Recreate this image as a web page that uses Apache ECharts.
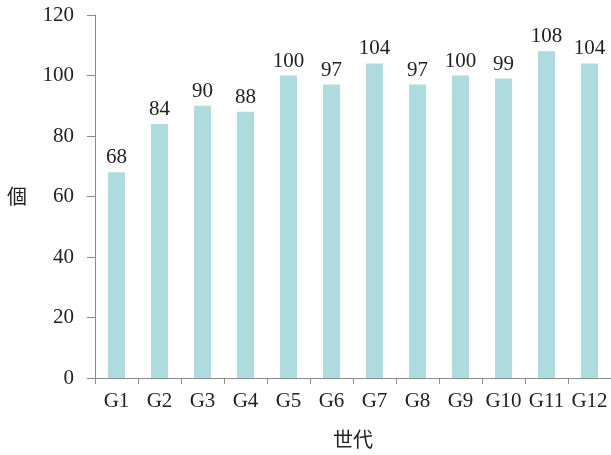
<!DOCTYPE html>
<html>
<head>
<meta charset="utf-8">
<script src="https://cdn.jsdelivr.net/npm/echarts@6/dist/echarts.min.js"></script>
<style>
  html, body { margin: 0; padding: 0; background: #fff; }
  #chart { width: 611px; height: 455px; }
</style>
</head>
<body>
<div id="chart"></div>
<script>
// Generation labels and counts per generation
const generations = ['G1', 'G2', 'G3', 'G4', 'G5', 'G6', 'G7', 'G8', 'G9', 'G10', 'G11', 'G12'];
const counts = [68, 84, 90, 88, 100, 97, 104, 97, 100, 99, 108, 104];
const yTicks = { min: 0, max: 120, interval: 20 };

const serif = '"Liberation Serif", "DejaVu Serif", serif';
const cjk = '"Noto Sans CJK TC", "Noto Sans CJK JP", sans-serif';
const axisColor = '#8c8c8c';
const textColor = '#222';

const chart = echarts.init(document.getElementById('chart'), null, { renderer: 'canvas' });
chart.setOption({
  animation: false,
  grid: { left: 95, right: 0, top: 15, bottom: 77, containLabel: false },
  xAxis: {
    type: 'category',
    data: generations,
    name: '世代',
    nameLocation: 'middle',
    nameGap: 51,
    nameTextStyle: { fontFamily: cjk, fontSize: 20, color: textColor },
    axisLine: { lineStyle: { color: axisColor, width: 1 } },
    axisTick: { show: true, length: 6, interval: 0, alignWithLabel: false, lineStyle: { color: axisColor } },
    axisLabel: { interval: 0, margin: 13, fontFamily: serif, fontSize: 21, color: textColor }
  },
  yAxis: {
    type: 'value',
    min: yTicks.min,
    max: yTicks.max,
    interval: yTicks.interval,
    name: '個',
    nameLocation: 'middle',
    nameRotate: 0,
    nameGap: 68,
    nameTextStyle: { fontFamily: cjk, fontSize: 20, color: textColor },
    axisLine: { show: true, lineStyle: { color: axisColor, width: 1 } },
    axisTick: { show: true, length: 8, lineStyle: { color: axisColor } },
    splitLine: { show: false },
    axisLabel: { margin: 21, fontFamily: serif, fontSize: 21, color: textColor }
  },
  series: [{
    type: 'bar',
    data: counts,
    barWidth: 17,
    itemStyle: { color: '#addbde' },
    label: {
      show: true,
      position: 'top',
      distance: 4,
      fontFamily: serif,
      fontSize: 21,
      color: textColor
    }
  }]
});
</script>
</body>
</html>
